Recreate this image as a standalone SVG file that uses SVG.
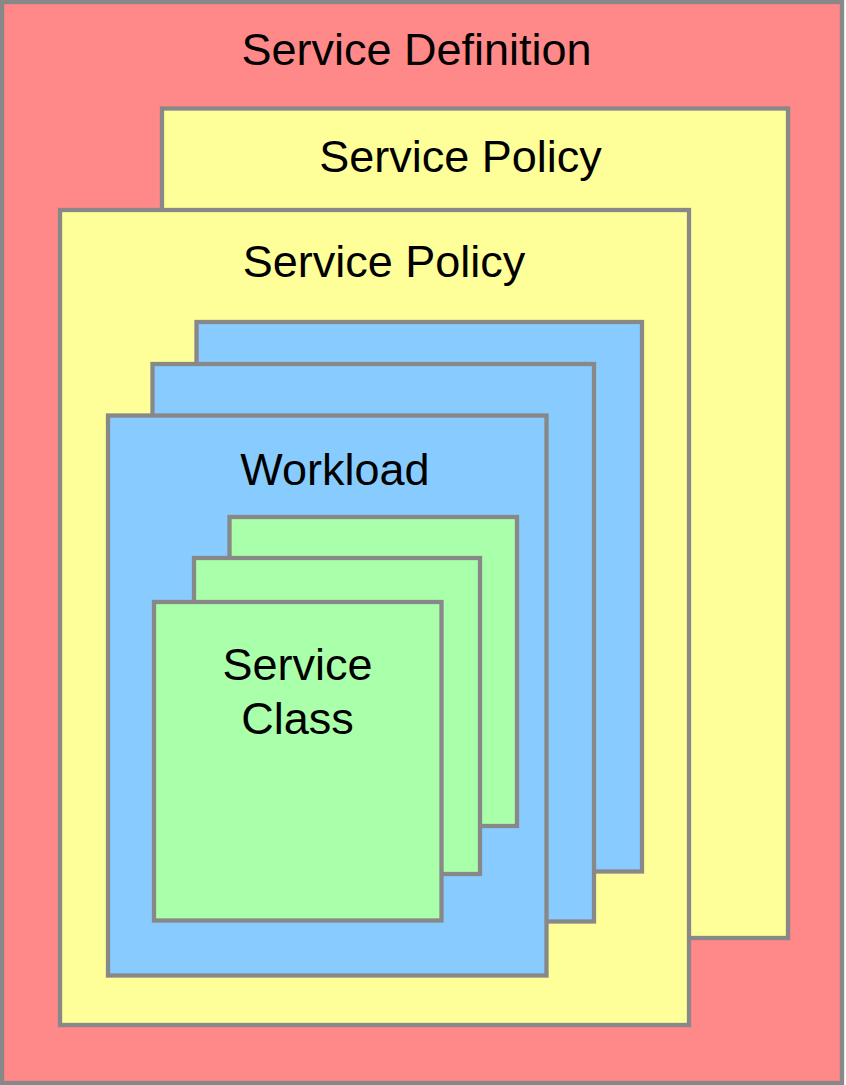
<svg xmlns="http://www.w3.org/2000/svg" width="846" height="1085" viewBox="0 0 846 1085">
  <style>
    rect { stroke: #888888; stroke-width: 4.3; }
    .def { fill: #FF8888; }
    .policy { fill: #FFFF99; }
    .workload { fill: #88CCFF; }
    .cls { fill: #AAFFAA; }
    text { font-family: "Liberation Sans", Arial, sans-serif; font-size: 45px; fill: #000000; text-anchor: middle; }
  </style>

  <g id="service-definition">
    <rect class="def" x="2" y="2" width="840" height="1081"/>
    <text x="416.5" y="65">Service Definition</text>
  </g>

  <g id="service-policy-back">
    <rect class="policy" x="162" y="108.5" width="626" height="829.5"/>
    <text x="460.5" y="172">Service Policy</text>
  </g>

  <g id="service-policy-front">
    <rect class="policy" x="60" y="210" width="629" height="815"/>
    <text x="384" y="277">Service Policy</text>
  </g>

  <g id="workload-back">
    <rect class="workload" x="196.5" y="322" width="445.5" height="549.5"/>
  </g>
  <g id="workload-middle">
    <rect class="workload" x="152.5" y="364" width="441.5" height="557.5"/>
  </g>
  <g id="workload-front">
    <rect class="workload" x="108" y="415.5" width="438.5" height="560"/>
    <text x="335" y="485">Workload</text>
  </g>

  <g id="service-class-back">
    <rect class="cls" x="229.5" y="517" width="287.5" height="309"/>
  </g>
  <g id="service-class-middle">
    <rect class="cls" x="194" y="558" width="286" height="316"/>
  </g>
  <g id="service-class-front">
    <rect class="cls" x="154" y="602" width="287.5" height="318.5"/>
    <text x="297.5" y="680">Service</text>
    <text x="297.5" y="733.5">Class</text>
  </g>

  <g id="connectors"/>
</svg>
